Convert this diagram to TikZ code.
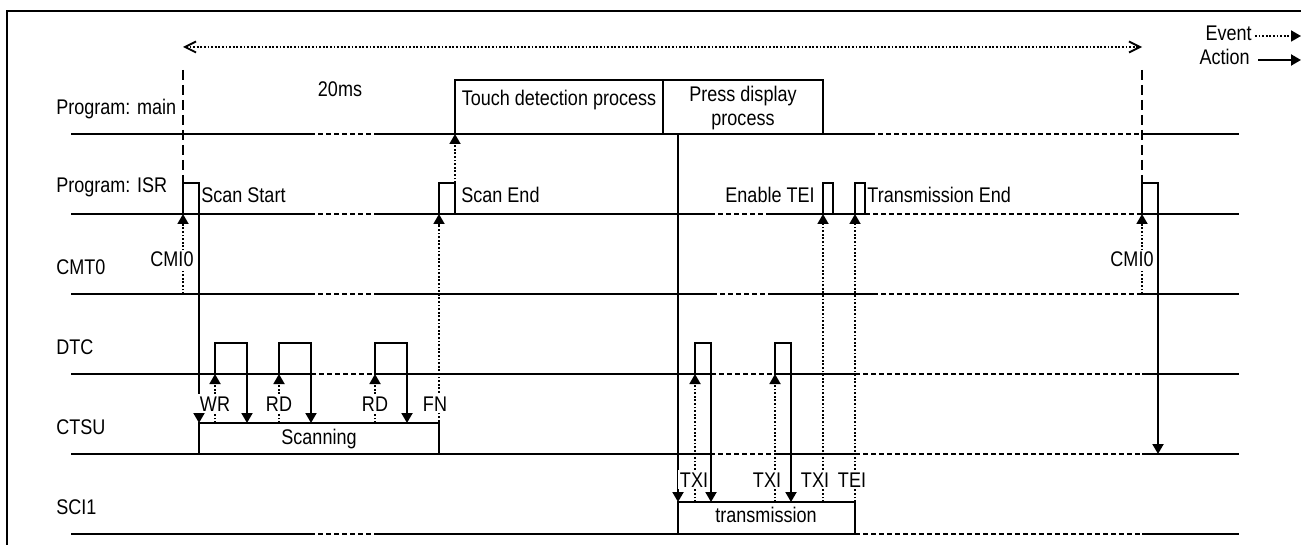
\documentclass[tikz,border=0pt]{standalone}
\usepackage{fontspec}
\setmainfont{Liberation Sans}[FakeStretch=0.85]
\usetikzlibrary{arrows.meta}
\begin{document}
\begin{tikzpicture}[x=0.5pt,y=-0.5pt,
  font=\fontsize{10.6pt}{12pt}\selectfont,
  ln/.style={line width=1pt},
  lnd/.style={line width=1pt, dash pattern=on 2.5pt off 1.5pt},
  vdash/.style={line width=1pt, dash pattern=on 5pt off 2.5pt},
  dotl/.style={line width=0.9pt, dash pattern=on 0.9pt off 0.9pt},
  ev/.style={dotl, -{Triangle[length=5pt,width=5.5pt]}},
  act/.style={line width=1pt, -{Triangle[length=5pt,width=5.5pt]}},
  box/.style={draw, line width=1pt, inner sep=0, outer sep=0, anchor=north west},
  pulse/.style={draw, line width=1pt, inner sep=0, outer sep=0, anchor=south west, minimum height=15.5pt},
  lbl/.style={inner sep=0, anchor=base west},
  lblc/.style={inner sep=0, anchor=base},
  lble/.style={inner sep=0, anchor=base east},
  tag/.style={inner sep=1pt, fill=white, anchor=base},
]
\useasboundingbox (0,0) rectangle (1301,545);
% frame
\draw[line width=1pt] (7,545) -- (7,11) -- (1301,11);

% boxes
\node[box, minimum width=104pt, minimum height=27pt] (touch) at (455,80) {};
\node[box, minimum width=80pt, minimum height=27pt] (press) at (663,80) {};
\node[box, minimum width=120pt, minimum height=15.5pt] (scan) at (199,423) {};
\node[box, minimum width=88.5pt, minimum height=16pt] (trans) at (678,502) {};

% ISR pulses
\node[pulse, minimum width=8pt] (ss) at (183,214) {};
\node[pulse, minimum width=8pt] (se) at (439,214) {};
\node[pulse, minimum width=5pt] (et) at (823,214) {};
\node[pulse, minimum width=5pt] (te) at (855,214) {};
\node[pulse, minimum width=8pt] (cm) at (1142,214) {};
% DTC pulses
\node[pulse, minimum width=16pt] (d1) at (215,374) {};
\node[pulse, minimum width=16pt] (d2) at (279,374) {};
\node[pulse, minimum width=16pt] (d3) at (375,374) {};
\node[pulse, minimum width=8pt] (d4) at (695,374) {};
\node[pulse, minimum width=8pt] (d5) at (775,374) {};

% lanes
% main
\draw[ln] (71,134) -- (310,134);
\draw[lnd] (310,134) -- (375,134);
\draw[ln] (375,134) -- (touch.south west);
\draw[ln] (press.south east) -- (870,134);
\draw[lnd] (870,134) -- (1142,134);
\draw[ln] (1142,134) -- (1239,134);
% ISR
\draw[ln] (71,214) -- (310,214);
\draw[lnd] (310,214) -- (375,214);
\draw[ln] (375,214) -- (710,214);
\draw[lnd] (710,214) -- (770,214);
\draw[ln] (770,214) -- (865,214);
\draw[lnd] (865,214) -- (1142,214);
\draw[ln] (1142,214) -- (1239,214);
% CMT0
\draw[ln] (71,294) -- (310,294);
\draw[lnd] (310,294) -- (375,294);
\draw[ln] (375,294) -- (712,294);
\draw[lnd] (712,294) -- (773,294);
\draw[ln] (773,294) -- (873,294);
\draw[lnd] (873,294) -- (1142,294);
\draw[ln] (1142,294) -- (1239,294);
% DTC
\draw[ln] (71,374) -- (311,374);
\draw[lnd] (311,374) -- (375,374);
\draw[ln] (375,374) -- (711,374);
\draw[lnd] (711,374) -- (775,374);
\draw[ln] (775,374) -- (855,374);
\draw[lnd] (855,374) -- (1142,374);
\draw[ln] (1142,374) -- (1239,374);
% CTSU
\draw[ln] (71,454) -- (710,454);
\draw[lnd] (710,454) -- (775,454);
\draw[ln] (775,454) -- (855,454);
\draw[lnd] (855,454) -- (1142,454);
\draw[ln] (1142,454) -- (1239,454);
% SCI1
\draw[ln] (71,534) -- (310,534);
\draw[lnd] (310,534) -- (375,534);
\draw[ln] (375,534) -- (trans.south west);
\draw[lnd] (trans.south east) -- (1142,534);
\draw[ln] (1142,534) -- (1239,534);

% period markers
\coordinate (v1) at (183,70);
\coordinate (v2) at (1142,70);
\draw[vdash] (v1) -- (ss.north west);
\draw[vdash] (v2) -- (cm.north west);
\coordinate (t1) at (183,47);
\coordinate (t2) at (1142,47);
\draw[dotl, {Straight Barb[length=5.5pt,width=5.5pt]}-{Straight Barb[length=5.5pt,width=5.5pt]}] (t1) -- (t2);
\node[lblc] (ms) at (340,97) {20ms};

% connectors
\coordinate (c1) at (183,294);
\draw[ev] (c1) -- (ss.south west);
\draw[act] (ss.south east) -- (scan.north west);
\draw[ev] (d1.south west |- scan.north) -- (d1.south west);
\draw[act] (d1.south east) -- (d1.south east |- scan.north);
\draw[ev] (d2.south west |- scan.north) -- (d2.south west);
\draw[act] (d2.south east) -- (d2.south east |- scan.north);
\draw[ev] (d3.south west |- scan.north) -- (d3.south west);
\draw[act] (d3.south east) -- (d3.south east |- scan.north);
\draw[ev] (scan.south east) -- (se.south west);
\draw[ev] (se.north east) -- (touch.south west);
\coordinate (m1) at (678,134);
\draw[act] (m1) -- (trans.north west);
\draw[ev] (d4.south west |- trans.north) -- (d4.south west);
\draw[act] (d4.south east) -- (d4.south east |- trans.north);
\draw[ev] (d5.south west |- trans.north) -- (d5.south west);
\draw[act] (d5.south east) -- (d5.south east |- trans.north);
\draw[ev] (et.south west |- trans.north) -- (et.south west);
\draw[ev] (trans.north east) -- (te.south west);
\coordinate (c2) at (1142,294);
\draw[ev] (c2) -- (cm.south west);
\coordinate (c3) at (1158,454);
\draw[act] (cm.south east) -- (c3);

% connector labels
\node[tag] (l1) at (172,267) {CMI0};
\node[tag] (l2) at (1132,267) {CMI0};
\node[tag] (l3) at (215,411) {WR};
\node[tag] (l4) at (279,411) {RD};
\node[tag] (l5) at (375,411) {RD};
\node[tag] (l6) at (435,411) {FN};
\node[tag] (l7) at (694,487) {TXI};
\node[tag] (l8) at (767,487) {TXI};
\node[tag] (l9) at (815,487) {TXI};
\node[tag] (l10) at (852,487) {TEI};

% lane labels
\node[lbl] (n1) at (56,115) {Program: main};
\node[lbl] (n2) at (56,193) {Program: ISR};
\node[lbl] (n3) at (56,275) {CMT0};
\node[lbl] (n4) at (56,354) {DTC};
\node[lbl] (n5) at (56,434) {CTSU};
\node[lbl] (n6) at (56,514) {SCI1};

% texts
\node[lbl] (x1) at (201,203) {Scan Start};
\node[lbl] (x2) at (461,203) {Scan End};
\node[lble] (x3) at (815,203) {Enable TEI};
\node[lbl] (x4) at (867,203) {Transmission End};
\node[lblc] (x5) at (559,106) {Touch detection process};
\node[lblc] (x6) at (743,102) {Press display};
\node[lblc] (x7) at (743,126) {process};
\node[lblc] (x8) at (319,444) {Scanning};
\node[lblc] (x9) at (766,522) {transmission};

% legend
\node[lble] (ev) at (1252,41) {Event};
\node[lble] (ac) at (1250,65) {Action};
\coordinate (e1) at (1255,36);
\coordinate (e2) at (1301,36);
\draw[ev] (e1) -- (e2);
\coordinate (a1) at (1258,60);
\coordinate (a2) at (1301,60);
\draw[act] (a1) -- (a2);
\end{tikzpicture}
\end{document}
